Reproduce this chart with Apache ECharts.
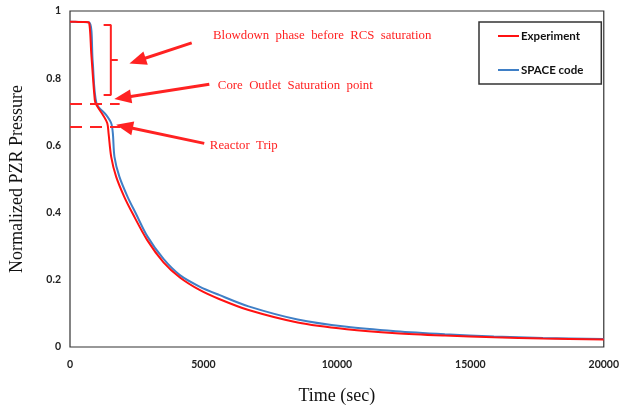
<!DOCTYPE html>
<html>
<head>
<meta charset="utf-8">
<script src="https://cdn.jsdelivr.net/npm/echarts@6/dist/echarts.min.js"></script>
<style>
html,body{margin:0;padding:0;background:#fff;}
#c{width:622px;height:410px;}
</style>
</head>
<body>
<div id="c"></div>
<script>
// Experiment (red)
const expTime = [0, 200, 400, 600, 710, 800, 930, 993, 1239, 1397, 1445, 1544, 1728, 2033, 2342, 2893, 3503, 4117, 4853, 5588, 6691, 8529, 10368, 12206, 14044, 15882, 17721, 20000];
const expVal  = [0.968, 0.968, 0.967, 0.967, 0.966, 0.87, 0.735, 0.72, 0.69, 0.666, 0.636, 0.566, 0.507, 0.447, 0.398, 0.318, 0.252, 0.207, 0.170, 0.143, 0.110, 0.073, 0.053, 0.041, 0.034, 0.029, 0.025, 0.022];
// SPACE code (blue)
const spaceTime = [0, 720, 850, 993, 1360, 1544, 1606, 1666, 1850, 2158, 2463, 2893, 3503, 4117, 4853, 5588, 6691, 8529, 10368, 12206, 14044, 15882, 17721, 20000];
const spaceVal  = [0.968, 0.966, 0.85, 0.725, 0.69, 0.666, 0.636, 0.566, 0.507, 0.447, 0.398, 0.330, 0.262, 0.214, 0.180, 0.155, 0.121, 0.082, 0.060, 0.047, 0.038, 0.031, 0.027, 0.024];

const xTicks = [0, 5000, 10000, 15000, 20000];
const yTicks = [0, 0.2, 0.4, 0.6, 0.8, 1];

// Annotations (data coordinates)
const bracketPts = [[1260, 0.958], [1530, 0.958], [1530, 0.750], [1260, 0.750]];
const bracketTick = [[1530, 0.854], [1790, 0.854]];
const dashSat = [[0, 0.725], [1860, 0.725]];
const dashTrip = [[0, 0.655], [1890, 0.655]];
const arrows = [
  [[4560, 0.905], [2530, 0.852]],
  [[5220, 0.782], [1975, 0.742]],
  [[5030, 0.606], [2040, 0.656]]
];
const noteTexts = ['Blowdown  phase  before  RCS  saturation', 'Core  Outlet  Saturation  point', 'Reactor  Trip'];
const notePos = [[5360, 0.926], [5540, 0.777], [5240, 0.598]];

const zip = (a, b) => a.map((v, i) => [v, b[i]]);
const RED = '#ff1111';
const BLUE = '#3f7fc6';
const ANN = '#ff2222';

const chart = echarts.init(document.getElementById('c'), null, {renderer: 'canvas'});
chart.setOption({
  animation: false,
  backgroundColor: '#fff',
  grid: {left: 68, right: 15, top: 11, bottom: 63, show: true, borderColor: '#333', borderWidth: 1.2, backgroundColor: 'transparent'},
  legend: {
    data: ['Experiment', 'SPACE code'],
    orient: 'vertical',
    left: 479, top: 22,
    padding: [7, 18, 7, 19],
    itemGap: 20,
    itemWidth: 21, itemHeight: 2,
    icon: 'rect',
    borderColor: '#333', borderWidth: 1.5,
    backgroundColor: '#fff',
    textStyle: {fontFamily: 'Lato', fontWeight: 'bold', fontSize: 11.5, color: '#111', lineHeight: 14, padding: [0, 0, 0, -3]}
  },
  xAxis: {
    type: 'value', min: xTicks[0], max: xTicks[xTicks.length - 1], interval: 5000,
    name: 'Time (sec)', nameLocation: 'middle', nameGap: 40,
    nameTextStyle: {fontFamily: 'Liberation Serif', fontSize: 18, color: '#111'},
    axisLine: {show: false}, axisTick: {show: false}, splitLine: {show: false},
    axisLabel: {fontFamily: 'Lato', fontWeight: 'bold', fontSize: 10.5, color: '#222', margin: 12, formatter: v => String(v)}
  },
  yAxis: {
    type: 'value', min: yTicks[0], max: yTicks[yTicks.length - 1], interval: 0.2,
    name: 'Normalized PZR Pressure', nameLocation: 'middle', nameGap: 44,
    nameTextStyle: {fontFamily: 'Liberation Serif', fontSize: 18, color: '#111'},
    axisLine: {show: false}, axisTick: {show: false}, splitLine: {show: false},
    axisLabel: {fontFamily: 'Lato', fontWeight: 'bold', fontSize: 10.5, color: '#222', margin: 9}
  },
  series: [
    {
      name: 'SPACE code', type: 'line', data: zip(spaceTime, spaceVal),
      showSymbol: false, smooth: 0.3,
      lineStyle: {color: BLUE, width: 2}, itemStyle: {color: BLUE}, z: 3
    },
    {
      name: 'Experiment', type: 'line', data: zip(expTime, expVal),
      showSymbol: false, smooth: 0.3,
      lineStyle: {color: RED, width: 2}, itemStyle: {color: RED}, z: 4
    },
    {
      name: 'bracket', type: 'line', data: bracketPts, showSymbol: false,
      lineStyle: {color: ANN, width: 2}, silent: true, z: 5,
      markLine: {
        silent: true, symbol: ['none', 'none'], label: {show: false},
        lineStyle: {color: ANN, width: 2, type: 'solid'},
        data: [[{coord: bracketTick[0]}, {coord: bracketTick[1]}]]
      }
    },
    {
      name: 'dashes', type: 'line', data: [], silent: true, z: 5,
      markLine: {
        silent: true, symbol: ['none', 'none'], label: {show: false},
        lineStyle: {color: ANN, width: 2, type: [12, 8]},
        data: [
          [{coord: dashSat[0]}, {coord: dashSat[1]}],
          [{coord: dashTrip[0]}, {coord: dashTrip[1]}]
        ]
      }
    },
    {
      name: 'arrows', type: 'line', data: [], silent: true, z: 6,
      markLine: {
        silent: true, symbol: ['none', 'triangle'], symbolSize: [14, 17], label: {show: false},
        lineStyle: {color: ANN, width: 3, type: 'solid'},
        itemStyle: {color: ANN},
        data: arrows.map(a => [{coord: a[0]}, {coord: a[1]}])
      },
      markPoint: {
        silent: true, symbol: 'circle', symbolSize: 0,
        itemStyle: {color: 'transparent'},
        label: {show: true, position: 'right', distance: 0, color: ANN, fontFamily: 'Liberation Serif', fontSize: 12.8,
                formatter: p => p.name},
        data: noteTexts.map((t, i) => ({name: t, coord: notePos[i]}))
      }
    }
  ]
});
</script>
</body>
</html>
